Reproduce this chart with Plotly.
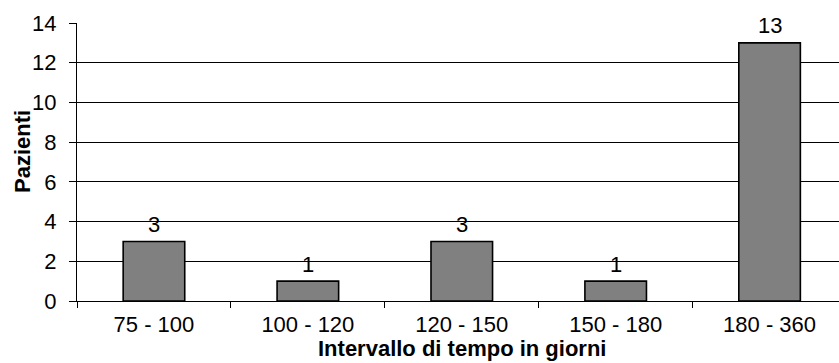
import plotly.graph_objects as go

categories = ["75 - 100", "100 - 120", "120 - 150", "150 - 180", "180 - 360"]
patients = [3, 1, 3, 1, 13]
y_ticks = [0, 2, 4, 6, 8, 10, 12, 14]
x_title = "Intervallo di tempo in giorni"
y_title = "Pazienti"

FONT = "Liberation Sans, Arial, sans-serif"

W, H = 839, 363
L, R, T, B = 77, 0, 23, 62
pw = W - L - R
ph = H - T - B

fig = go.Figure()
fig.add_trace(go.Bar(
    x=categories,
    y=patients,
    width=0.4,
    marker=dict(color="#808080", line=dict(color="#000000", width=1.6)),
    hoverinfo="skip",
))

annotations = []
for c, v in zip(categories, patients):
    annotations.append(dict(
        x=c, y=v, xref="x", yref="y", text=str(v), showarrow=False,
        xanchor="center", yanchor="middle", yshift=17,
        font=dict(family=FONT, size=22, color="#000000"),
    ))

# axis titles placed by pixel position, converted to paper coordinates
xt_px, yt_px = 462.3, 348.5
annotations.append(dict(
    x=(xt_px - L) / pw, y=(H - B - yt_px) / ph, xref="paper", yref="paper",
    text=f"<b>{x_title}</b>", showarrow=False, xanchor="center", yanchor="middle",
    font=dict(family=FONT, size=22, color="#000000"),
))
yx_px, yy_px = 22.5, 151.5
annotations.append(dict(
    x=(yx_px - L) / pw, y=(H - B - yy_px) / ph, xref="paper", yref="paper",
    text=f"<b>{y_title}</b>", showarrow=False, xanchor="center", yanchor="middle",
    textangle=-90,
    font=dict(family=FONT, size=22, color="#000000"),
))

fig.update_layout(
    width=W, height=H,
    margin=dict(l=L, r=R, t=T, b=B, pad=0),
    paper_bgcolor="#ffffff", plot_bgcolor="#ffffff",
    showlegend=False,
    font=dict(family=FONT, size=22, color="#000000"),
    annotations=annotations,
)
fig.update_xaxes(
    type="category",
    range=[-0.5, 4.451],
    showline=True, linecolor="#000000", linewidth=1,
    ticks="outside", tickson="boundaries", ticklen=6, tickcolor="#000000", tickwidth=1,
    showgrid=False, zeroline=False,
    tickfont=dict(family=FONT, size=22, color="#000000"),
    ticklabelstandoff=4,
)
fig.update_yaxes(
    range=[0, 14],
    tickvals=y_ticks,
    showline=True, linecolor="#000000", linewidth=1,
    ticks="outside", ticklen=7, tickcolor="#000000", tickwidth=1,
    showgrid=True, gridcolor="#000000", gridwidth=1,
    zeroline=False,
    tickfont=dict(family=FONT, size=22, color="#000000"),
    ticklabelstandoff=8,
)

fig.write_html("out.html", config={"displayModeBar": False})
